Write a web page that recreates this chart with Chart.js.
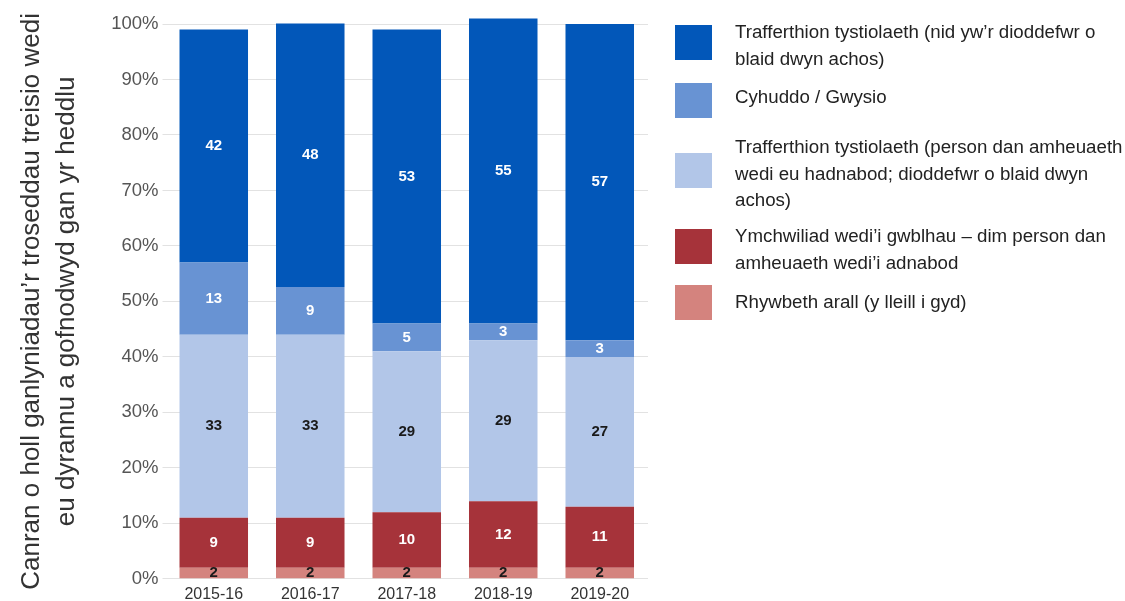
<!DOCTYPE html>
<html><head><meta charset="utf-8">
<script src="https://cdn.jsdelivr.net/npm/chart.js@4"></script>
<style>
html,body{margin:0;padding:0;background:#fff;width:1125px;height:601px;overflow:hidden;font-family:"Liberation Sans",Arial,sans-serif}
#c{position:absolute;left:0;top:0}
#legend{position:absolute;left:675px;top:0;width:450px;height:601px}
.sw{position:absolute;left:0;width:37px;height:35px}
.txt{position:absolute;left:60px;font-size:18.7px;line-height:26.5px;color:#222;white-space:nowrap}
</style></head>
<body>
<canvas id="c" width="1125" height="601"></canvas>
<div id="legend"></div>
<script>
const categories = ["2015-16","2016-17","2017-18","2018-19","2019-20"];
const seriesLabels = [
  ["Rhywbeth arall (y lleill i gyd)"],
  ["Ymchwiliad wedi’i gwblhau – dim person dan","amheuaeth wedi’i adnabod"],
  ["Trafferthion tystiolaeth (person dan amheuaeth","wedi eu hadnabod; dioddefwr o blaid dwyn","achos)"],
  ["Cyhuddo / Gwysio"],
  ["Trafferthion tystiolaeth (nid yw’r dioddefwr o","blaid dwyn achos)"]
];
const otherVals     = [2, 2, 2, 2, 2];
const noSuspectVals = [9, 9, 10, 12, 11];
const evSuspectVals = [33, 33, 29, 29, 27];
const chargeVals    = [13, 8.6, 5, 3, 3];
const evVictimVals  = [42, 47.5, 53, 55, 57];
const yTicks = [0,10,20,30,40,50,60,70,80,90,100];
const yTitle = ["Canran o holl ganlyniadau’r troseddau treisio wedi","eu dyrannu a gofnodwyd gan yr heddlu"];

const colors = ["#d4837e","#a6333a","#b2c6e8","#6893d3","#0257b9"];
const labelColors = ["#1a1a1a","#ffffff","#1a1a1a","#ffffff","#ffffff"];
const allVals = [otherVals, noSuspectVals, evSuspectVals, chargeVals, evVictimVals];
const FONT = '"Liberation Sans", Arial, sans-serif';

const segLabels = {
  id:'segLabels',
  afterDatasetsDraw(chart){
    const ctx = chart.ctx;
    chart.data.datasets.forEach((ds,i)=>{
      const meta = chart.getDatasetMeta(i);
      meta.data.forEach((bar,j)=>{
        const p = bar.getProps(['x','y','base'], true);
        ctx.save();
        ctx.font = 'bold 15px ' + FONT;
        ctx.fillStyle = labelColors[i];
        ctx.textAlign = 'center';
        ctx.textBaseline = 'middle';
        ctx.fillText(String(Math.round(ds.data[j])), p.x, (p.y + p.base)/2);
        ctx.restore();
      });
    });
  }
};

new Chart(document.getElementById('c'), {
  type:'bar',
  data:{
    labels: categories,
    datasets: allVals.map((v,i)=>({
      label: seriesLabels[i].join(' '),
      data: v,
      backgroundColor: colors[i],
      borderWidth: 0,
      barPercentage: 0.71,
      categoryPercentage: 1,
      clip: false
    }))
  },
  options:{
    responsive:false,
    animation:false,
    layout:{padding:{left:14, right:477, top:24, bottom:-9}},
    plugins:{legend:{display:false}, tooltip:{enabled:false}},
    scales:{
      x:{
        stacked:true,
        grid:{display:false, drawTicks:false},
        border:{display:false},
        ticks:{color:'#333', font:{size:16, family:FONT}, padding:6}
      },
      y:{
        stacked:true,
        min:0, max:100,
        afterBuildTicks(axis){ axis.ticks = yTicks.map(v=>({value:v})); },
        grid:{color:'#e2e2e2', tickLength:3, lineWidth:1},
        border:{display:false},
        ticks:{color:'#555', font:{size:18.5, family:FONT}, padding:4, callback:v=>v+'%'},
        title:{display:true, text:yTitle, color:'#333', font:{size:26, family:FONT, lineHeight:1.35}, padding:{top:0,bottom:23}}
      }
    }
  },
  plugins:[segLabels]
});

// legend (top to bottom = stack top to bottom)
const legendPos = [
  {sw:25, tx:19},
  {sw:83, tx:84},
  {sw:153, tx:134},
  {sw:229, tx:223},
  {sw:285, tx:289}
];
const lg = document.getElementById('legend');
for(let k=0;k<5;k++){
  const i = 4-k;
  const sw = document.createElement('div');
  sw.className='sw'; sw.style.top=legendPos[k].sw+'px'; sw.style.background=colors[i];
  const tx = document.createElement('div');
  tx.className='txt'; tx.style.top=legendPos[k].tx+'px';
  tx.innerHTML = seriesLabels[i].join('<br>');
  lg.appendChild(sw); lg.appendChild(tx);
}
</script>
</body></html>
